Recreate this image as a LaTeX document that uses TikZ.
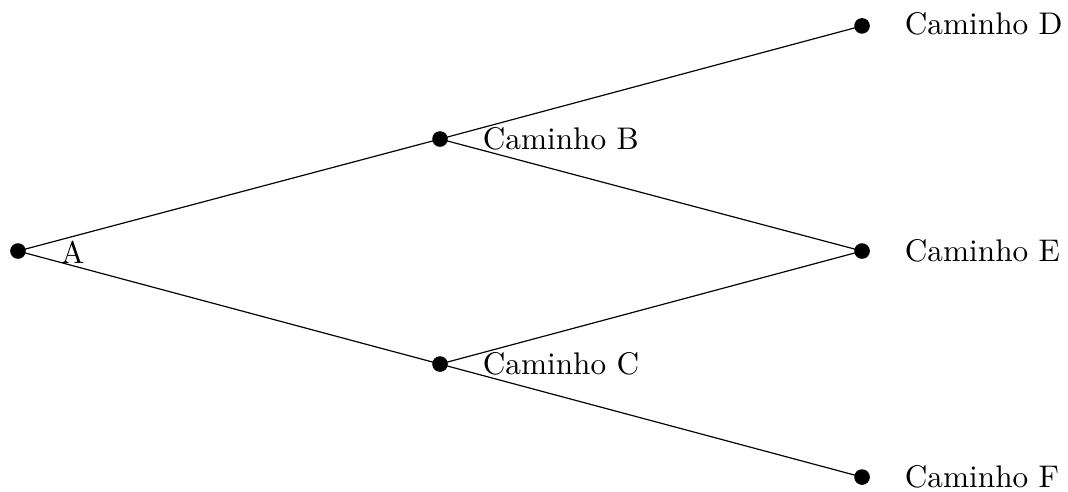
\documentclass[tikz,border=0pt]{standalone}
\begin{document}
\begin{tikzpicture}[
  dot/.style={circle,fill=black,inner sep=0pt,minimum size=0.185cm},
  lbl/.style={anchor=west,inner sep=0pt,font=\fontsize{10.55}{12.5}\selectfont},
  edge/.style={line width=0.4pt}
]
\useasboundingbox (-0.213,-2.844) rectangle (12.44,2.974);
\node[dot] (A) at (0,0) {};
\node[dot] (B) at (5,1.327) {};
\node[dot] (C) at (5,-1.339) {};
\node[dot] (D) at (10,2.667) {};
\node[dot] (E) at (10,0) {};
\node[dot] (F) at (10,-2.678) {};
\draw[edge] (A.center) -- (B.center);
\draw[edge] (A.center) -- (C.center);
\draw[edge] (B.center) -- (D.center);
\draw[edge] (B.center) -- (E.center);
\draw[edge] (C.center) -- (E.center);
\draw[edge] (C.center) -- (F.center);
\node[lbl] (lA) at (0.50,-0.02) {A};
\node[lbl] (lB) at (5.50,1.327) {Caminho B};
\node[lbl] (lC) at (5.50,-1.339) {Caminho C};
\node[lbl] (lD) at (10.50,2.69) {Caminho D};
\node[lbl] (lE) at (10.50,0) {Caminho E};
\node[lbl] (lF) at (10.50,-2.678) {Caminho F};
\end{tikzpicture}
\end{document}
